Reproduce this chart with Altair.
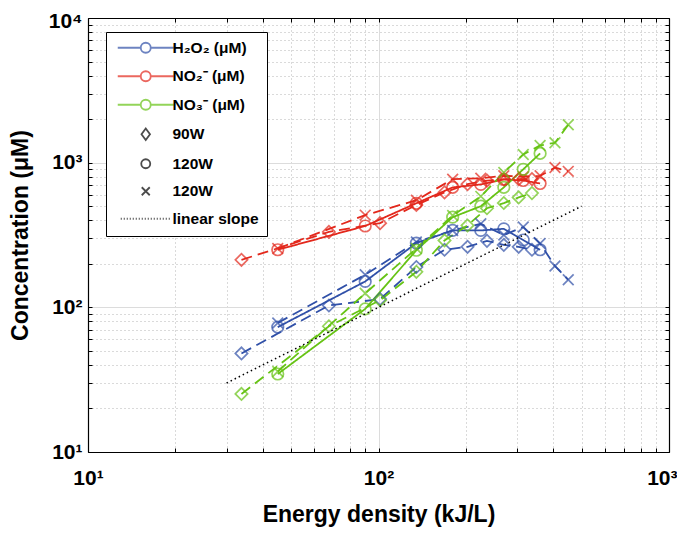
import altair as alt
import pandas as pd

# ---------------- data ----------------
SPECIES = ["H2O2", "NO2", "NO3"]
COLORS = ["#3050a8", "#e3281c", "#66c314"]
POWERS = ["90W", "120W", "120W-x"]

x_90w = [33.75, 67.5, 101.25, 135, 168.75, 202.5, 236.25, 270, 303.75, 337.5]
x_120w = [45, 90, 135, 180, 225, 270, 315, 360]
x_120w_x = [45, 90, 135, 180, 225, 270, 315, 360, 405, 450]

h2o2_90w = [48, 103, 114, 190, 250, 262, 288, 270, 262, 250]
h2o2_120w = [73, 151, 278, 340, 340, 349, 292, 250]
h2o2_120w_x = [78, 168, 283, 340, 378, 316, 359, 276, 193, 155]

no2_90w = [213, 332, 382, 510, 623, 710, 752, 766, 770, 770]
no2_120w = [250, 365, 524, 675, 707, 766, 753, 718]
no2_120w_x = [255, 434, 550, 769, 780, 811, 800, 811, 925, 871]

no3_90w = [25.2, 74, 112, 176, 290, 368, 484, 526, 575, 616]
no3_120w = [34.6, 97.5, 248, 420, 500, 675, 900, 1159]
no3_120w_x = [36, 125, 255, 431, 585, 855, 1140, 1315, 1372, 1830]

slope_x = [30, 500]
slope_y = [30, 500]

LEGEND_ITEMS = ["H₂O₂ (μM)", "NO₂⁻ (μM)", "NO₃⁻ (μM)", "90W", "120W", "120W\u200b", "linear slope"]

# ---------------- tables ----------------
series = {
    ("H2O2", "90W"): (x_90w, h2o2_90w),
    ("H2O2", "120W"): (x_120w, h2o2_120w),
    ("H2O2", "120W-x"): (x_120w_x, h2o2_120w_x),
    ("NO2", "90W"): (x_90w, no2_90w),
    ("NO2", "120W"): (x_120w, no2_120w),
    ("NO2", "120W-x"): (x_120w_x, no2_120w_x),
    ("NO3", "90W"): (x_90w, no3_90w),
    ("NO3", "120W"): (x_120w, no3_120w),
    ("NO3", "120W-x"): (x_120w_x, no3_120w_x),
}
rows = []
for (sp, pw), (xs, ys) in series.items():
    for xv, yv in zip(xs, ys):
        rows.append({"species": sp, "power": pw, "series": sp + "_" + pw, "x": xv, "y": yv})
df = pd.DataFrame(rows)
slope_df = pd.DataFrame({"x": slope_x, "y": slope_y})
legend_df = pd.DataFrame({"item": LEGEND_ITEMS, "x": [1] * len(LEGEND_ITEMS), "y": [1] * len(LEGEND_ITEMS)})

# ---------------- styling ----------------
W, H = 581, 434
FONT = "Liberation Sans"
XPATH = "M-1,-1L1,1M-1,1L1,-1"

major_x = [10, 100, 1000]
major_y = [10, 100, 1000, 10000]
minor_x = [m * d for d in (10, 100) for m in range(2, 10)]
minor_y = [m * d for d in (10, 100, 1000) for m in range(2, 10)]
all_x = sorted(major_x + minor_x)
all_y = sorted(major_y + minor_y)

xscale = alt.Scale(type="log", domain=[10, 1000], nice=False)
yscale = alt.Scale(type="log", domain=[10, 10000], nice=False)

sup = "datum.value < 15 ? '10¹' : datum.value < 150 ? '10²' : datum.value < 1500 ? '10³' : '10⁴'"

main_x_axis = alt.Axis(orient="bottom", values=major_x, labelExpr=sup, grid=True, gridColor="#dcdcdc",
                       gridWidth=1, ticks=False, domain=True, domainColor="black", domainWidth=1.2,
                       labelFont=FONT, labelFontWeight="bold", labelFontSize=21, labelColor="black",
                       labelPadding=15, labelFlush=False,
                       labelAlign={"condition": {"test": "datum.value > 500", "value": "right"}, "value": "center"},
                       labelOffset={"condition": {"test": "datum.value > 500", "value": 8}, "value": 0},
                       title="Energy density (kJ/L)", titleFont=FONT,
                       titleFontWeight="bold", titleFontSize=23, titleColor="black", titlePadding=15)
main_y_axis = alt.Axis(orient="left", values=major_y, labelExpr=sup, grid=True, gridColor="#dcdcdc",
                       gridWidth=1, ticks=False, domain=True, domainColor="black", domainWidth=1.2,
                       labelFont=FONT, labelFontWeight="bold", labelFontSize=21, labelColor="black",
                       labelPadding=6, labelFlush=False,
                       labelOffset={"condition": {"test": "datum.value > 5000", "value": 3}, "value": 0},
                       title="Concentration (μM)", titleFont=FONT,
                       titleFontWeight="bold", titleFontSize=23, titleColor="black", titlePadding=16)

tick_kw = dict(ticks=True, tickSize=4, tickColor="black", tickWidth=1, labels=False, grid=False)
in_x_bottom = alt.Axis(orient="top", offset=-H, values=all_x, domain=False, **tick_kw)
in_y_left = alt.Axis(orient="right", offset=-W, values=all_y, domain=False, **tick_kw)
in_x_top = alt.Axis(orient="bottom", offset=-H, values=all_x, domain=True, domainColor="black",
                    domainWidth=1.2, **tick_kw)
in_y_right = alt.Axis(orient="left", offset=-W, values=all_y, domain=True, domainColor="black",
                      domainWidth=1.2, **tick_kw)

minor_kw = dict(ticks=False, labels=False, domain=False, grid=True, gridDash=[1, 3], gridColor="#b4b4b4",
                gridWidth=1)
minor_x_axis = alt.Axis(orient="bottom", values=minor_x, **minor_kw)
minor_y_axis = alt.Axis(orient="left", values=minor_y, **minor_kw)

sp_color = alt.Color("species:N", scale=alt.Scale(domain=SPECIES, range=COLORS), legend=None)

lines = alt.Chart(df).mark_line(strokeWidth=1.8, clip=True).encode(
    x=alt.X("x:Q", scale=xscale, axis=main_x_axis),
    y=alt.Y("y:Q", scale=yscale, axis=main_y_axis),
    color=sp_color,
    strokeDash=alt.StrokeDash("power:N", scale=alt.Scale(domain=POWERS, range=[[11, 6], [1, 0], [11, 6]]),
                              legend=None),
    detail="series:N",
)

points = alt.Chart(df).mark_point(filled=False, strokeWidth=1.7, clip=True).encode(
    x=alt.X("x:Q", scale=xscale, axis=in_x_bottom, title=None),
    y=alt.Y("y:Q", scale=yscale, axis=in_y_left, title=None),
    color=sp_color,
    shape=alt.Shape("power:N", scale=alt.Scale(domain=POWERS, range=["diamond", "circle", XPATH]), legend=None),
    size=alt.Size("power:N", scale=alt.Scale(domain=POWERS, range=[150, 115, 100]), legend=None),
)

slope = alt.Chart(slope_df).mark_line(color="black", strokeWidth=1.5, strokeDash=[1.5, 3]).encode(
    x=alt.X("x:Q", scale=xscale, axis=in_x_top, title=None),
    y=alt.Y("y:Q", scale=yscale, axis=in_y_right, title=None),
)

LINE_CIRCLE = "M-5.6,0H-1M1,0H5.6M-1,0A1,1 0 1,1 1,0A1,1 0 1,1 -1,0"
DIAMOND_L = "M0,-1.15L0.85,0L0,1.15L-0.85,0Z"
CIRCLE_L = "M-0.9,0A0.9,0.9 0 1,1 0.9,0A0.9,0.9 0 1,1 -0.9,0"
X_L = "M-0.8,-0.8L0.8,0.8M-0.8,0.8L0.8,-0.8"
DOTS = "".join("M%.2f,0H%.2f" % (-5.0 + 0.6 * i, -5.0 + 0.6 * i + 0.2) for i in range(17))

leg = alt.Legend(orient="none", legendX=18, legendY=14, title=None, strokeColor="black", fillColor="white",
                 padding=8, labelFont=FONT, labelFontWeight="bold", labelFontSize=15.5, labelColor="black",
                 symbolSize=100, symbolStrokeWidth=1.8, symbolOffset=24, labelOffset=19, rowPadding=10.5,
                 zindex=2)

legend_layer = alt.Chart(legend_df).mark_point(filled=False, clip=True, size=100, strokeWidth=1.8).encode(
    x=alt.X("x:Q", scale=xscale, axis=minor_x_axis, title=None),
    y=alt.Y("y:Q", scale=yscale, axis=minor_y_axis, title=None),
    color=alt.Color("item:N", scale=alt.Scale(domain=LEGEND_ITEMS,
                    range=COLORS + ["black", "black", "black", "black"]), legend=leg),
    shape=alt.Shape("item:N", scale=alt.Scale(domain=LEGEND_ITEMS,
                    range=[LINE_CIRCLE, LINE_CIRCLE, LINE_CIRCLE, DIAMOND_L, CIRCLE_L, X_L, DOTS]), legend=leg),
)

chart = alt.layer(lines, points, slope, legend_layer).resolve_scale(
    color="independent", shape="independent", size="independent", strokeDash="independent"
).resolve_axis(x="independent", y="independent").properties(
    width=W, height=H,
    autosize=alt.AutoSizeParams(type="none"),
    padding={"left": 80, "top": 10, "right": 8, "bottom": 76},
).configure_view(stroke=None)

chart.save("out.html", embed_options={"renderer": "svg", "actions": False})
